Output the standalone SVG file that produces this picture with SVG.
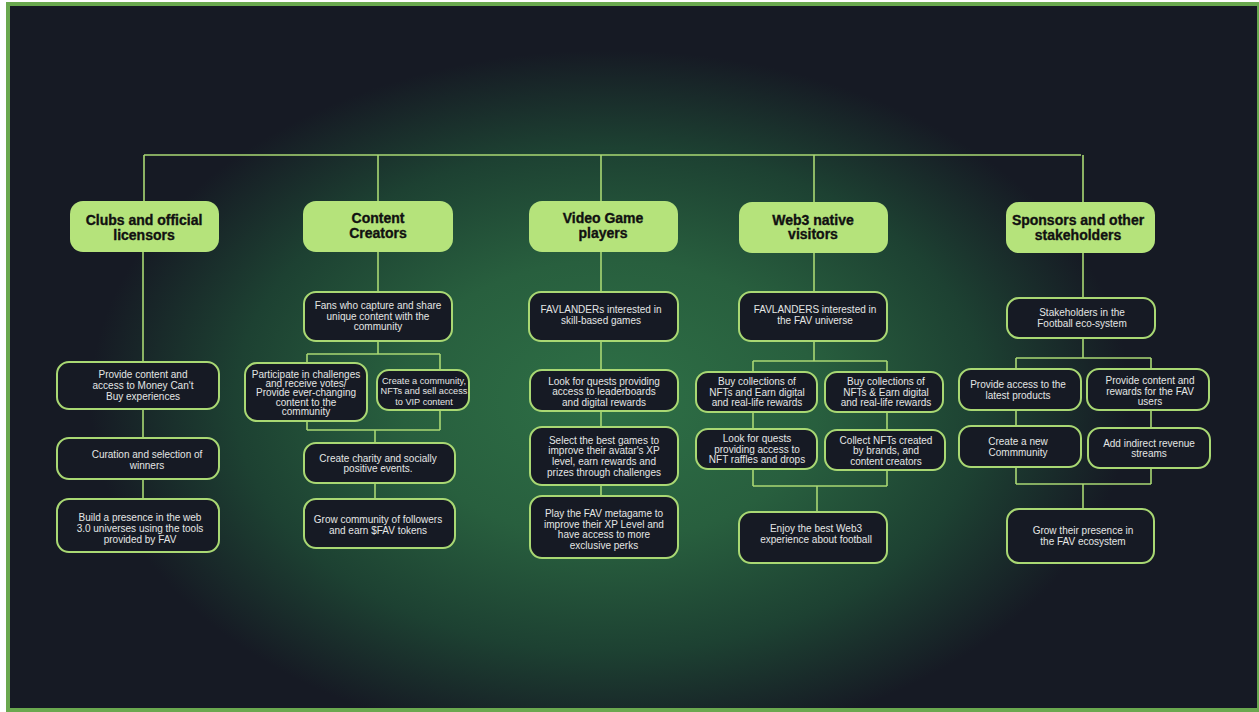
<svg xmlns="http://www.w3.org/2000/svg" width="1259" height="712" viewBox="0 0 1259 712">
<defs>
<radialGradient id="glow" gradientUnits="userSpaceOnUse" cx="0" cy="0" r="1" gradientTransform="translate(610 400) scale(520 350)">
<stop offset="0" stop-color="#2e7046"/>
<stop offset="0.4" stop-color="#285f3e"/>
<stop offset="0.72" stop-color="#1d4132"/>
<stop offset="1" stop-color="#161a24"/>
</radialGradient>
<style>
.hd{fill:#b5e37b;}
.hdt{font-family:"Liberation Sans",Arial,sans-serif;font-weight:bold;font-size:14px;fill:#111111;stroke:#111111;stroke-width:0.35;text-anchor:middle;}
.bx{fill:#161a24;stroke:#a9d873;stroke-width:2;}
.bt{font-family:"Liberation Sans",Arial,sans-serif;font-size:10px;fill:#e4e6e4;text-anchor:middle;}
.sm{font-size:9.2px;}
.cn{fill:none;stroke:#a9d873;stroke-width:1.6;}
</style>
</defs>
<rect x="0" y="0" width="1259" height="712" fill="#ffffff"/>
<rect x="6" y="2" width="1253" height="710" fill="#6aa84f"/>
<rect x="10" y="6" width="1247" height="702" fill="#161a24"/>
<rect x="10" y="6" width="1247" height="702" fill="url(#glow)"/>

<g id="connectors">
<path class="cn" d="M144 155 H1081 M144 155 V201 M378 155 V201 M601 155 V201 M814 155 V202 M1083 155 V202"/>
<path class="cn" d="M143 252 V362 M143 409 V438 M143 479 V499"/>
<path class="cn" d="M378 252 V292 M378 341 V354 M307 354 H440 M307 354 V363 M440 354 V370 M307 421 V430 M440 410 V430 M307 430 H440 M375 430 V443 M375 483 V499"/>
<path class="cn" d="M601 252 V292 M601 341 V370 M601 411 V427 M601 485 V496"/>
<path class="cn" d="M814 253 V292 M814 341 V361 M753 361 H887 M753 361 V372 M887 361 V372 M753 412 V429 M887 412 V430 M753 469 V486 M887 470 V486 M753 486 H887 M817 486 V512"/>
<path class="cn" d="M1083 253 V298 M1083 338 V358 M1016 358 H1151 M1016 358 V369 M1151 358 V369 M1016 410 V426 M1151 410 V428 M1016 467 V484 M1151 468 V484 M1016 484 H1151 M1083 484 V509"/>
</g>

<g id="h1"><rect class="hd" x="70" y="201" width="149" height="51" rx="13"/><text class="hdt" x="144" y="225">Clubs and official</text><text class="hdt" x="144" y="240">licensors</text></g>
<g id="h2"><rect class="hd" x="303" y="201" width="150" height="51" rx="13"/><text class="hdt" x="378" y="223">Content</text><text class="hdt" x="378" y="238">Creators</text></g>
<g id="h3"><rect class="hd" x="529" y="201" width="149" height="51" rx="13"/><text class="hdt" x="603" y="223">Video Game</text><text class="hdt" x="603" y="238">players</text></g>
<g id="h4"><rect class="hd" x="739" y="202" width="149" height="51" rx="13"/><text class="hdt" x="813" y="225">Web3 native</text><text class="hdt" x="813" y="239">visitors</text></g>
<g id="h5"><rect class="hd" x="1006" y="202" width="149" height="51" rx="13"/><text class="hdt" x="1078" y="225">Sponsors and other</text><text class="hdt" x="1078" y="240">stakeholders</text></g>

<g id="c1b1"><rect class="bx" x="57" y="362" width="162" height="47" rx="12"/><text class="bt" x="143" y="377.5">Provide content and</text><text class="bt" x="143" y="388.5">access to Money Can't</text><text class="bt" x="143" y="399.5">Buy experiences</text></g>
<g id="c1b2"><rect class="bx" x="57" y="438" width="162" height="41" rx="12"/><text class="bt" x="147" y="457.5">Curation and selection of</text><text class="bt" x="147" y="468.5">winners</text></g>
<g id="c1b3"><rect class="bx" x="57" y="499" width="162" height="53" rx="12"/><text class="bt" x="140" y="520.5">Build a presence in the web</text><text class="bt" x="140" y="531.5">3.0 universes using the tools</text><text class="bt" x="140" y="542.5">provided by FAV</text></g>

<g id="c2b1"><rect class="bx" x="304" y="292" width="148" height="49" rx="12"/><text class="bt" x="378" y="308.5">Fans who capture and share</text><text class="bt" x="378" y="319.5">unique content with the</text><text class="bt" x="378" y="330">community</text></g>
<g id="c2b2"><rect class="bx" x="245" y="363" width="122" height="58" rx="12"/><text class="bt" x="306" y="377.5">Participate in challenges</text><text class="bt" x="306" y="386.8">and receive votes/</text><text class="bt" x="306" y="396.2">Provide ever-changing</text><text class="bt" x="306" y="405.5">content to the</text><text class="bt" x="306" y="414.5">community</text></g>
<g id="c2b3"><rect class="bx" x="377" y="370" width="92" height="40" rx="12"/><text class="bt sm" x="424" y="383.5">Create a community,</text><text class="bt sm" x="424" y="393.8">NFTs and sell access</text><text class="bt sm" x="424" y="404.5">to VIP content</text></g>
<g id="c2b4"><rect class="bx" x="304" y="443" width="151" height="40" rx="12"/><text class="bt" x="378" y="461.5">Create charity and socially</text><text class="bt" x="378" y="471.8">positive events.</text></g>
<g id="c2b5"><rect class="bx" x="304" y="499" width="151" height="49" rx="12"/><text class="bt" x="378" y="522.5">Grow community of followers</text><text class="bt" x="378" y="533.5">and earn $FAV tokens</text></g>

<g id="c3b1"><rect class="bx" x="529" y="292" width="149" height="49" rx="12"/><text class="bt" x="601" y="312.5">FAVLANDERs interested in</text><text class="bt" x="601" y="324">skill-based games</text></g>
<g id="c3b2"><rect class="bx" x="530" y="370" width="148" height="41" rx="12"/><text class="bt" x="604" y="384.5">Look for quests providing</text><text class="bt" x="604" y="395.2">access to leaderboards</text><text class="bt" x="604" y="405.5">and digital rewards</text></g>
<g id="c3b3"><rect class="bx" x="530" y="427" width="148" height="58" rx="12"/><text class="bt" x="604" y="443.5">Select the best games to</text><text class="bt" x="604" y="454.2">improve their avatar's XP</text><text class="bt" x="604" y="464.8">level,  earn rewards and</text><text class="bt" x="604" y="475.5">prizes through challenges</text></g>
<g id="c3b4"><rect class="bx" x="530" y="496" width="148" height="62" rx="12"/><text class="bt" x="604" y="516.5">Play the FAV metagame to</text><text class="bt" x="604" y="527.5">improve their XP Level and</text><text class="bt" x="604" y="538.2">have access to more</text><text class="bt" x="604" y="548.5">exclusive perks</text></g>

<g id="c4b1"><rect class="bx" x="739" y="292" width="148" height="49" rx="12"/><text class="bt" x="815" y="312.5">FAVLANDERS interested in</text><text class="bt" x="815" y="323.5">the FAV universe</text></g>
<g id="c4b2"><rect class="bx" x="696" y="372" width="121" height="40" rx="12"/><text class="bt" x="757" y="384.5">Buy collections of</text><text class="bt" x="757" y="395.5">NFTs and Earn digital</text><text class="bt" x="757" y="405.8">and real-life rewards</text></g>
<g id="c4b3"><rect class="bx" x="825" y="372" width="118" height="40" rx="12"/><text class="bt" x="886" y="384.5">Buy collections of</text><text class="bt" x="886" y="395.5">NFTs &amp; Earn digital</text><text class="bt" x="886" y="405.8">and real-life rewards</text></g>
<g id="c4b4"><rect class="bx" x="696" y="429" width="121" height="40" rx="12"/><text class="bt" x="757" y="441.5">Look for quests</text><text class="bt" x="757" y="452.5">providing access to</text><text class="bt" x="757" y="462.8">NFT raffles and drops</text></g>
<g id="c4b5"><rect class="bx" x="825" y="430" width="120" height="40" rx="12"/><text class="bt" x="886" y="443.5">Collect NFTs created</text><text class="bt" x="886" y="454">by brands, and</text><text class="bt" x="886" y="464.5">content creators</text></g>
<g id="c4b6"><rect class="bx" x="739" y="512" width="148" height="51" rx="12"/><text class="bt" x="816" y="531.5">Enjoy the best Web3</text><text class="bt" x="816" y="542.5">experience about football</text></g>

<g id="c5b1"><rect class="bx" x="1007" y="298" width="148" height="40" rx="12"/><text class="bt" x="1082" y="315.5">Stakeholders in the</text><text class="bt" x="1082" y="326.5">Football eco-system</text></g>
<g id="c5b2"><rect class="bx" x="959" y="369" width="122" height="41" rx="12"/><text class="bt" x="1018" y="388">Provide access to the</text><text class="bt" x="1018" y="398.5">latest products</text></g>
<g id="c5b3"><rect class="bx" x="1087" y="369" width="122" height="41" rx="12"/><text class="bt" x="1150" y="383.5">Provide content and</text><text class="bt" x="1150" y="394.5">rewards for the FAV</text><text class="bt" x="1150" y="405">users</text></g>
<g id="c5b4"><rect class="bx" x="959" y="426" width="122" height="41" rx="12"/><text class="bt" x="1018" y="444.5">Create a new</text><text class="bt" x="1018" y="455.5">Commmunity</text></g>
<g id="c5b5"><rect class="bx" x="1088" y="428" width="122" height="40" rx="12"/><text class="bt" x="1149" y="446.5">Add indirect revenue</text><text class="bt" x="1149" y="457">streams</text></g>
<g id="c5b6"><rect class="bx" x="1007" y="509" width="147" height="54" rx="12"/><text class="bt" x="1083" y="534">Grow their presence in</text><text class="bt" x="1083" y="544.5">the FAV ecosystem</text></g>
</svg>
